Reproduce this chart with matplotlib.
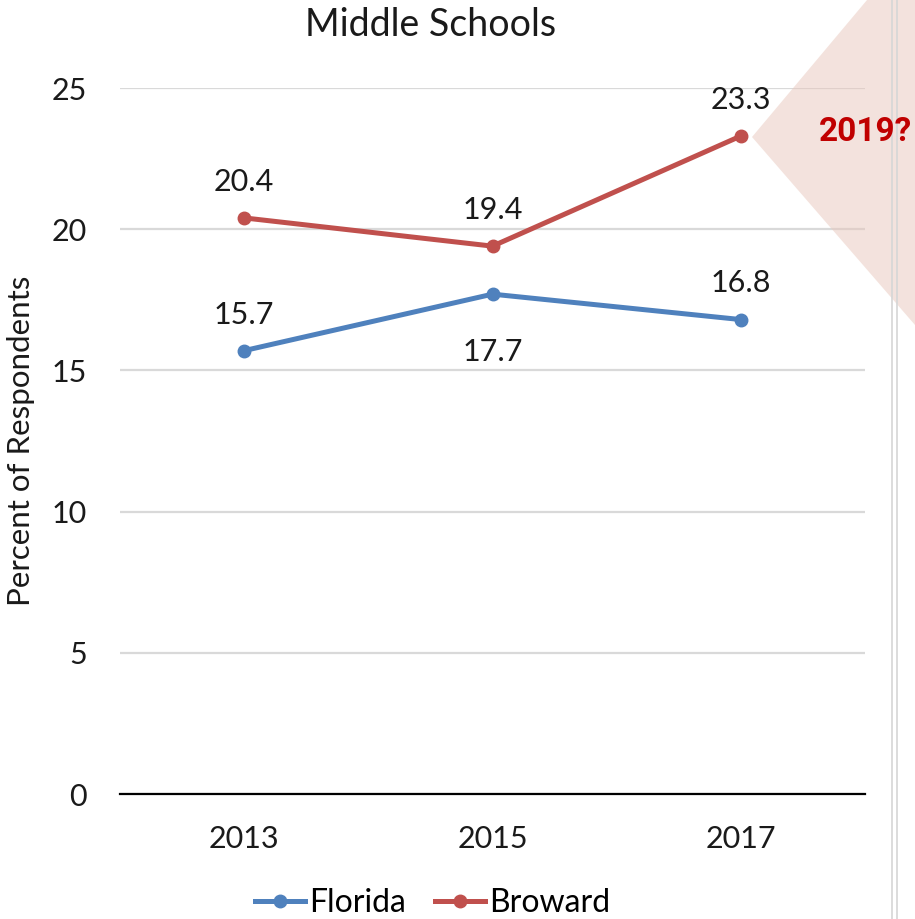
import matplotlib
matplotlib.use("Agg")
import matplotlib.pyplot as plt
from matplotlib.patches import Polygon
from matplotlib.lines import Line2D

years = ["2013", "2015", "2017"]
florida = [15.7, 17.7, 16.8]
broward = [20.4, 19.4, 23.3]
yticks = [0, 5, 10, 15, 20, 25]

plt.rcParams['font.family'] = ['Lato', 'DejaVu Sans']

fig = plt.figure(figsize=(9.15, 9.19), dpi=100)
ax = fig.add_axes([120/915, 1-794/919, 745/915, 706/919])

x = list(range(len(years)))
blue = '#4F81BD'
red = '#C0504D'
ax.plot(x, florida, color=blue, lw=3.6, marker='o', ms=9, label='Florida', zorder=3)
ax.plot(x, broward, color=red, lw=3.6, marker='o', ms=9, label='Broward', zorder=3)

FS = 22
# data labels
for i, v in enumerate(florida):
    off = -42 if i == 1 else 26
    ax.annotate(f"{v:.1f}", (i, v), xytext=(0, off), textcoords='offset points',
                ha='center', va='center', fontsize=FS, color='#1a1a1a')
for i, v in enumerate(broward):
    ax.annotate(f"{v:.1f}", (i, v), xytext=(0, 26), textcoords='offset points',
                ha='center', va='center', fontsize=FS, color='#1a1a1a')

ax.set_xlim(-0.5, 2.5)
ax.set_ylim(0, 25)
ax.set_yticks(yticks)
ax.set_xticks(x)
ax.set_xticklabels(years)
ax.tick_params(axis='both', length=0, labelsize=FS, colors='#1a1a1a')
ax.tick_params(axis='y', pad=24)
ax.tick_params(axis='x', pad=22)
ax.grid(axis='y', color='#D9D9D9', lw=1.6)
ax.set_axisbelow(True)
for s in ['top', 'right', 'left']:
    ax.spines[s].set_visible(False)
ax.spines['bottom'].set_color('black')
ax.spines['bottom'].set_linewidth(1.6)
ax.set_ylabel("Percent of Respondents", fontsize=22.5, color='#1a1a1a', labelpad=12)

fig.text(431/915, 1-25/919, "Middle Schools", ha='center', va='center', fontsize=27, color='#1a1a1a')

leg = fig.legend(loc='center', bbox_to_anchor=(433/915, 1-903/919), ncol=2, frameon=False,
                 fontsize=23, handlelength=1.55, handletextpad=0.15, columnspacing=0.9)

# decorative triangle
tri = Polygon([(752/915, 1-137/919), (867/915, 1.0), (1.0, 1.0), (1.0, 1-325/919)],
              closed=True, transform=fig.transFigure, facecolor='#E8C7BC', alpha=0.5,
              edgecolor='none', zorder=0)
fig.patches.append(tri)
for xv in (891.5, 897):
    fig.lines.append(Line2D([xv/915, xv/915], [0, 1], transform=fig.transFigure,
                            color='#D6D6D6', lw=1.2))
fig.text(819/915, 1-132/919, "2019?", ha='left', va='center', fontsize=24,
         fontweight='bold', color='#C00000', family=['Roboto', 'DejaVu Sans'])

fig.savefig("out.png", dpi=100)
